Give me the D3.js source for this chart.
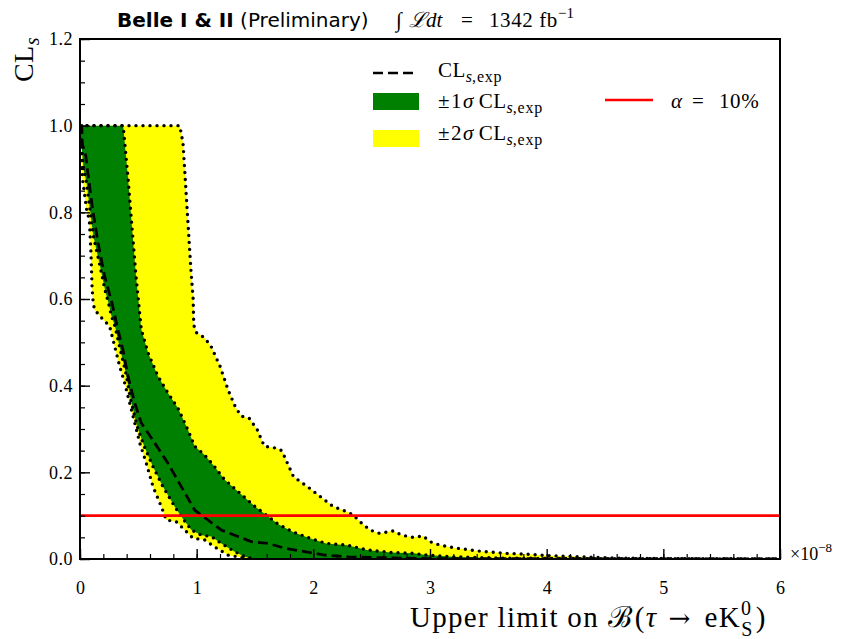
<!DOCTYPE html>
<html>
<head>
<meta charset="utf-8">
<script src="https://cdn.jsdelivr.net/npm/d3@7"></script>
<style>
  body { margin: 0; background: #fff; }
  svg text { font-family: "Liberation Serif", "DejaVu Serif", serif; fill: #000; }
</style>
</head>
<body>
<svg id="chart" width="841" height="639"></svg>
<script>
// CLs scan vs upper limit on B(tau -> e K0S), x in units of 1e-8
var expected = [[0,1.0],[0.015,1.0],[0.02,0.957],[0.05,0.93],[0.065,0.895],[0.08,0.865],[0.095,0.834],[0.11,0.803],[0.125,0.78],[0.154,0.73],[0.211,0.653],[0.275,0.59],[0.32,0.535],[0.368,0.483],[0.411,0.422],[0.469,0.36],[0.525,0.314],[0.64,0.268],[0.754,0.221],[0.868,0.167],[0.983,0.113],[1.097,0.09],[1.211,0.067],[1.354,0.052],[1.468,0.04],[1.611,0.036],[1.754,0.025],[1.925,0.017],[2.097,0.009],[2.3,0.005],[2.6,0.003],[3.0,0.001],[6.0,0.0]];

var sigma1Lo = [[0,1.0],[0.015,0.95],[0.03,0.9],[0.055,0.87],[0.085,0.807],[0.115,0.745],[0.165,0.684],[0.215,0.62],[0.245,0.59],[0.27,0.56],[0.30,0.537],[0.345,0.483],[0.39,0.433],[0.435,0.368],[0.49,0.306],[0.55,0.26],[0.626,0.213],[0.711,0.167],[0.811,0.121],[0.868,0.098],[0.954,0.067],[1.04,0.055],[1.125,0.052],[1.211,0.036],[1.326,0.017],[1.411,0.005],[1.5,0.0]];

var sigma1Hi = [[0,1.0],[0.37,1.0],[0.41,0.884],[0.44,0.784],[0.48,0.653],[0.5,0.599],[0.525,0.53],[0.583,0.476],[0.668,0.422],[0.754,0.383],[0.84,0.348],[0.925,0.298],[0.983,0.26],[1.068,0.24],[1.154,0.213],[1.24,0.183],[1.354,0.156],[1.5,0.121],[1.7,0.08],[1.83,0.062],[1.97,0.048],[2.11,0.036],[2.29,0.032],[2.46,0.021],[2.66,0.015],[2.86,0.013],[2.97,0.009],[3.2,0.005],[3.6,0.002],[4.2,0.001],[6.0,0.0]];

var sigma2Lo = [[0,1.0],[0.01,0.95],[0.02,0.88],[0.035,0.85],[0.06,0.8],[0.08,0.784],[0.094,0.707],[0.103,0.63],[0.11,0.6],[0.123,0.576],[0.183,0.557],[0.254,0.537],[0.297,0.491],[0.34,0.445],[0.383,0.406],[0.426,0.36],[0.469,0.314],[0.512,0.268],[0.568,0.221],[0.626,0.167],[0.697,0.121],[0.74,0.09],[0.825,0.086],[0.897,0.067],[0.968,0.048],[1.069,0.044],[1.154,0.028],[1.268,0.009],[1.354,0.005],[1.45,0.0]];

var sigma2Hi = [[0,1.0],[0.855,1.0],[0.883,0.96],[0.92,0.80],[0.95,0.67],[0.97,0.6],[0.975,0.54],[1.0,0.522],[1.07,0.51],[1.125,0.49],[1.2,0.445],[1.27,0.39],[1.33,0.352],[1.38,0.33],[1.45,0.325],[1.52,0.298],[1.58,0.26],[1.68,0.256],[1.73,0.25],[1.83,0.19],[1.95,0.167],[2.06,0.144],[2.17,0.121],[2.29,0.109],[2.34,0.102],[2.40,0.086],[2.485,0.067],[2.57,0.059],[2.685,0.065],[2.756,0.055],[2.856,0.050],[2.942,0.053],[3.0,0.040],[3.085,0.032],[3.228,0.025],[3.43,0.018],[3.656,0.013],[3.84,0.011],[4.0,0.008],[4.3,0.005],[4.6,0.002],[5.0,0.001],[6.0,0.0]];

var alphaLevel = 0.1;
var xTicks = [0, 1, 2, 3, 4, 5, 6];
var yTicks = [0.0, 0.2, 0.4, 0.6, 0.8, 1.0, 1.2];

var margin = {top: 39, right: 61, bottom: 80, left: 80},
    width = 841 - margin.left - margin.right,
    height = 639 - margin.top - margin.bottom;

var svg = d3.select("#chart");

var x = d3.scaleLinear().domain([0, 6]).range([0, width]);
var y = d3.scaleLinear().domain([0, 1.2]).range([height, 0]);

svg.append("defs").append("clipPath").attr("id", "plotclip")
  .append("rect").attr("width", width).attr("height", height);

var g = svg.append("g").attr("transform", "translate(" + margin.left + "," + margin.top + ")");
var plot = g.append("g").attr("clip-path", "url(#plotclip)");

var line = d3.line().x(function(d) { return x(d[0]); }).y(function(d) { return y(d[1]); });

// band = upper curve followed by the lower curve reversed
function band(lo, hi) { return line(hi.concat(lo.slice().reverse())) + "Z"; }

plot.append("path").attr("d", band(sigma2Lo, sigma2Hi)).attr("fill", "#ffff00");
plot.append("path").attr("d", band(sigma1Lo, sigma1Hi)).attr("fill", "#008000");

[sigma2Lo, sigma2Hi, sigma1Lo, sigma1Hi].forEach(function(c) {
  plot.append("path").attr("d", line(c))
    .attr("fill", "none").attr("stroke", "#000")
    .attr("stroke-width", 3.4)
    .attr("stroke-linecap", "round")
    .attr("stroke-dasharray", "0 7");
});

plot.append("path").attr("d", line(expected))
  .attr("fill", "none").attr("stroke", "#000")
  .attr("stroke-width", 2.8)
  .attr("stroke-dasharray", "10 5");

plot.append("line")
  .attr("x1", 0).attr("x2", width)
  .attr("y1", y(alphaLevel)).attr("y2", y(alphaLevel))
  .attr("stroke", "#ff0000").attr("stroke-width", 2.6);

// axes, ticks pointing inward
var xMinor = d3.range(0, 6.001, 0.2);
var yMinor = d3.range(0, 1.2001, 0.05);

g.append("g").attr("transform", "translate(0," + height + ")")
  .call(d3.axisBottom(x).tickValues(xMinor).tickSize(-5).tickFormat(""))
  .call(function(s) { s.select(".domain").remove(); s.selectAll("line").attr("stroke-width", 1.2); });
g.append("g").attr("transform", "translate(0," + height + ")")
  .call(d3.axisBottom(x).tickValues(xTicks).tickSize(-10).tickPadding(22).tickFormat(d3.format("d")))
  .call(function(s) {
    s.select(".domain").remove();
    s.selectAll("line").attr("stroke-width", 1.4);
    s.selectAll("text").attr("font-size", 18).attr("font-family", "Liberation Serif").attr("fill", "#222");
  });

g.append("g")
  .call(d3.axisLeft(y).tickValues(yMinor).tickSize(-5).tickFormat(""))
  .call(function(s) { s.select(".domain").remove(); s.selectAll("line").attr("stroke-width", 1.2); });
g.append("g")
  .call(d3.axisLeft(y).tickValues(yTicks).tickSize(-10).tickPadding(7).tickFormat(d3.format(".1f")))
  .call(function(s) {
    s.select(".domain").remove();
    s.selectAll("line").attr("stroke-width", 1.4);
    s.selectAll("text").attr("font-size", 18).attr("font-family", "Liberation Serif").attr("fill", "#222")
      .attr("letter-spacing", 0.5);
  });

g.append("rect").attr("width", width).attr("height", height)
  .attr("fill", "none").attr("stroke", "#000").attr("stroke-width", 2);

// exponent on the x axis
var ex = svg.append("text").attr("x", 790).attr("y", 560).attr("font-size", 18).attr("fill", "#333");
ex.append("tspan").text("×10");
ex.append("tspan").attr("dy", -8).attr("font-size", 13).text("−8");

// title
var t1 = svg.append("text").attr("x", 117).attr("y", 27).style("font-family", "DejaVu Sans").attr("font-size", 20);
t1.append("tspan").attr("font-weight", "bold").text("Belle I & II");
t1.append("tspan").text(" (Preliminary)");

var t2 = svg.append("text").attr("y", 27).attr("font-size", 21);
t2.append("tspan").attr("x", 396).text("∫");
t2.append("tspan").attr("x", 409).attr("font-style", "italic").text("ℒdt");
t2.append("tspan").attr("x", 461).text("=");
t2.append("tspan").attr("x", 489).attr("letter-spacing", 0.6).text("1342 fb");
t2.append("tspan").attr("dy", -9).attr("font-size", 15).text("−1");

// axis labels
var yl = svg.append("text")
  .attr("transform", "translate(33,37) rotate(-90)")
  .attr("text-anchor", "end").attr("font-size", 28).attr("letter-spacing", 0.5);
yl.append("tspan").text("CL");
yl.append("tspan").attr("dy", 6).attr("font-size", 20).attr("font-style", "italic").text("s");

var xl = svg.append("text").attr("x", 410).attr("y", 627).attr("font-size", 29).attr("letter-spacing", 1.3);
xl.append("tspan").text("Upper limit on ");
xl.append("tspan").attr("font-family", "DejaVu Serif").attr("font-size", 29).text("ℬ");
xl.append("tspan").attr("dx", 2).text("(");
xl.append("tspan").attr("font-style", "italic").text("τ");
xl.append("tspan").attr("dx", 11).attr("font-family", "DejaVu Serif").attr("font-size", 26).text("→");
xl.append("tspan").attr("dx", 13).text("eK");
xl.append("tspan").attr("dy", -12).attr("font-size", 20).text("0");
xl.append("tspan").attr("dx", -11).attr("dy", 21).attr("font-size", 20).text("S");
xl.append("tspan").attr("dx", 2).attr("dy", -9).text(")");

// legend
var lg = svg.append("g");
function subLabel(xp, yp, prefix) {
  var t = lg.append("text").attr("x", xp).attr("y", yp).attr("font-size", 21);
  if (prefix) {
    t.append("tspan").attr("letter-spacing", 1.5).text(prefix.a);
    t.append("tspan").attr("font-style", "italic").text(prefix.b);
    t.append("tspan").text("  ");
  }
  t.append("tspan").attr("letter-spacing", 0.5).text("CL");
  t.append("tspan").attr("dy", 5).attr("font-size", 16).attr("font-style", "italic").text("s");
  t.append("tspan").attr("font-size", 16).attr("letter-spacing", 0.8).text(",exp");
}
lg.append("line").attr("x1", 373).attr("x2", 418).attr("y1", 73).attr("y2", 73)
  .attr("stroke", "#000").attr("stroke-width", 2.6).attr("stroke-dasharray", "10 5");
subLabel(438, 77, null);
lg.append("rect").attr("x", 373).attr("y", 93).attr("width", 46).attr("height", 17).attr("fill", "#008000");
subLabel(438, 108, {a: "±1", b: "σ"});
lg.append("rect").attr("x", 373).attr("y", 130).attr("width", 46).attr("height", 17).attr("fill", "#ffff00");
subLabel(438, 140, {a: "±2", b: "σ"});
lg.append("line").attr("x1", 605).attr("x2", 653).attr("y1", 100).attr("y2", 100)
  .attr("stroke", "#ff0000").attr("stroke-width", 2.6);
var al = lg.append("text").attr("x", 671).attr("y", 108).attr("font-size", 21);
al.append("tspan").attr("font-style", "italic").text("α");
al.append("tspan").attr("x", 692).text("=");
al.append("tspan").attr("x", 719).attr("letter-spacing", 0.6).text("10%");
</script>
</body>
</html>
